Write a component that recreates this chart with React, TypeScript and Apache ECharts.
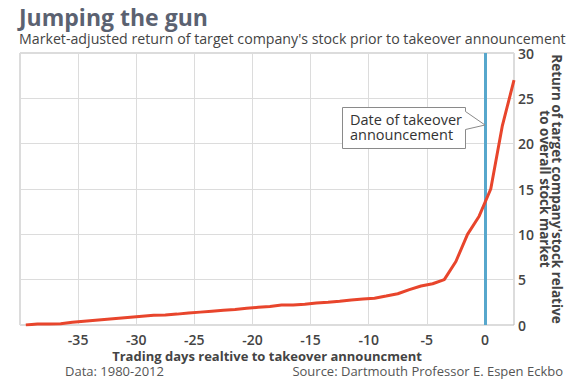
import React, { useEffect, useRef } from "react";
import * as echarts from "echarts";

const days = [
  -39.5, -38.5, -37.5, -36.5, -35.5, -34.5, -33.5, -32.5, -31.5, -30.5,
  -29.5, -28.5, -27.5, -26.5, -25.5, -24.5, -23.5, -22.5, -21.5, -20.5,
  -19.5, -18.5, -17.5, -16.5, -15.5, -14.5, -13.5, -12.5, -11.5, -10.5,
  -9.5, -8.5, -7.5, -6.5, -5.5, -4.5, -3.5, -2.5, -1.5, -0.5, 0.5, 1.5, 2.5,
];
const returns = [
  0.0, 0.1, 0.1, 0.15, 0.3, 0.42, 0.53, 0.64, 0.75, 0.86,
  0.97, 1.08, 1.1, 1.2, 1.32, 1.42, 1.52, 1.62, 1.72, 1.85,
  1.95, 2.05, 2.2, 2.2, 2.3, 2.42, 2.52, 2.63, 2.75, 2.86,
  2.96, 3.2, 3.45, 3.9, 4.3, 4.55, 5.0, 7.0, 10.0, 12.0, 15.0, 22.0, 27.0,
];
const announcementDay = 0;

const titleText = "Jumping the gun";
const subtitleText =
  "Market-adjusted return of target company's stock prior to takeover announcement";
const xAxisName = "Trading days realtive to takeover announcment";
const yAxisName = "Return of target company'stock relative\nto overall stock market";
const dataNote = "Data: 1980-2012";
const sourceNote = "Source: Dartmouth Professor E. Espen Eckbo";
const calloutText = "Date of takeover\nannouncement";

const FONT = "'Open Sans', sans-serif";

export default function App() {
  const ref = useRef<HTMLDivElement>(null);
  useEffect(() => {
    if (!ref.current) return;
    const chart = echarts.init(ref.current, undefined, { renderer: "svg" });
    const data = days.map((d, i) => [d, returns[i]]);
    chart.setOption({
      animation: false,
      backgroundColor: "#ffffff",
      textStyle: { fontFamily: FONT },
      grid: {
        left: 20,
        right: 58,
        top: 53,
        bottom: 56,
        containLabel: false,
        outerBoundsMode: "none",
        show: true,
        borderColor: "#b8b8b8",
        borderWidth: 1,
      },
      xAxis: {
        type: "value",
        min: -40,
        max: 2.5,
        interval: 5,
        name: xAxisName,
        nameLocation: "middle",
        nameGap: 24,
        nameMoveOverlap: false,
        nameTextStyle: { fontFamily: FONT, fontSize: 13, fontWeight: "bold", color: "#444" },
        axisLine: { show: false },
        axisTick: { show: false },
        axisLabel: {
          showMinLabel: false,
          showMaxLabel: false,
          fontFamily: FONT,
          fontSize: 14,
          fontWeight: 600,
          color: "#444",
          margin: 7,
        },
        splitLine: { show: true, lineStyle: { color: "#dcdcdc", width: 1 } },
      },
      yAxis: {
        type: "value",
        position: "right",
        min: 0,
        max: 30,
        interval: 5,
        name: yAxisName,
        nameLocation: "middle",
        nameRotate: -90,
        nameGap: 25,
        nameMoveOverlap: false,
        nameTextStyle: {
          fontFamily: FONT,
          fontSize: 13.5,
          fontWeight: "bold",
          color: "#444",
          lineHeight: 12,
        },
        axisLine: { show: false },
        axisTick: { show: false },
        axisLabel: {
          fontFamily: FONT,
          fontSize: 14,
          fontWeight: 600,
          color: "#444",
          margin: 4,
        },
        splitLine: { show: true, lineStyle: { color: "#dcdcdc", width: 1 } },
      },
      series: [
        {
          type: "line",
          data,
          symbol: "none",
          lineStyle: { color: "#e8452c", width: 3 },
          z: 3,
          markLine: {
            silent: true,
            symbol: "none",
            label: { show: false },
            lineStyle: { color: "#57a7cc", width: 3, type: "solid" },
            data: [{ xAxis: announcementDay }],
            z: 2,
          },
        },
      ],
      graphic: [
        {
          type: "text",
          left: 19,
          top: 5,
          style: {
            text: titleText,
            font: `bold 23px ${FONT}`,
            fill: "#5b6271",
          },
        },
        {
          type: "text",
          left: 19,
          top: 31,
          style: {
            text: subtitleText,
            font: `14.2px ${FONT}`,
            fill: "#444",
          },
        },
        {
          type: "polygon",
          shape: {
            points: [
              [342.5, 107.5],
              [465.5, 107.5],
              [465.5, 111.5],
              [485, 125],
              [465.5, 129.5],
              [465.5, 148.5],
              [342.5, 148.5],
            ],
          },
          style: { fill: "#ffffff", stroke: "#8a8a8a", lineWidth: 1 },
          z: 10,
        },
        {
          type: "text",
          left: 350,
          top: 112,
          z: 11,
          style: {
            text: calloutText,
            font: `14.5px ${FONT}`,
            fill: "#333",
            lineHeight: 15,
          },
        },
        {
          type: "text",
          left: 65,
          top: 364,
          style: { text: dataNote, font: `13px ${FONT}`, fill: "#555" },
        },
        {
          type: "text",
          right: 9,
          top: 364,
          style: { text: sourceNote, font: `13px ${FONT}`, fill: "#555" },
        },
      ],
    });
    return () => chart.dispose();
  }, []);
  return (
    <div
      ref={ref}
      style={{ position: "absolute", left: 0, top: 0, width: 572, height: 381 }}
    />
  );
}
